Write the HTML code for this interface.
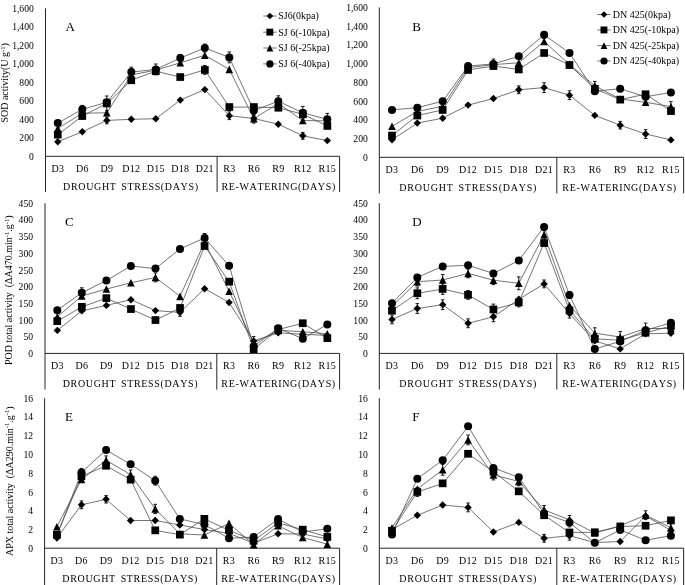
<!DOCTYPE html>
<html>
<head>
<meta charset="utf-8">
<title>Antioxidant enzyme activities under drought stress and re-watering</title>
<style>
html, body { margin: 0; padding: 0; background: #ffffff; }
body { width: 685px; height: 585px; overflow: hidden; font-family: 'Liberation Serif', serif; }
svg { display: block; font-kerning: none; will-change: transform; transform: translateZ(0); font-family: 'Liberation Serif', serif; }
</style>
</head>
<body>
<svg width="685" height="585" viewBox="0 0 685 585">
<rect x="0" y="0" width="685" height="585" fill="#ffffff"/>
<g id="panelA">
<g stroke="#262626" stroke-width="1" fill="none">
<path d="M45.5 8.4V192.0M45.5 156.3H339.6M217.1 156.3V192.0M339.6 156.3V192.0"/>
</g>
<g font-size="9.65" text-anchor="end" fill="#000">
<text x="33.8" y="159.8">0</text>
<text x="33.8" y="141.3">200</text>
<text x="33.8" y="122.8">400</text>
<text x="33.8" y="104.3">600</text>
<text x="33.8" y="85.9">800</text>
<text x="33.8" y="67.4">1,000</text>
<text x="33.8" y="48.9">1,200</text>
<text x="33.8" y="30.4">1,400</text>
<text x="33.8" y="11.9">1,600</text>
</g>
<g font-size="10" text-anchor="middle" fill="#000" letter-spacing="0.3">
<text x="57.8" y="172.3">D3</text>
<text x="82.3" y="172.3">D6</text>
<text x="106.8" y="172.3">D9</text>
<text x="131.3" y="172.3">D12</text>
<text x="155.8" y="172.3">D15</text>
<text x="180.3" y="172.3">D18</text>
<text x="204.8" y="172.3">D21</text>
<text x="229.3" y="172.3">R3</text>
<text x="253.8" y="172.3">R6</text>
<text x="278.3" y="172.3">R9</text>
<text x="302.8" y="172.3">R12</text>
<text x="327.3" y="172.3">R15</text>
</g>
<g font-size="10" text-anchor="middle" fill="#000" word-spacing="1.6">
<text x="130.9" y="189.9" letter-spacing="0.66">DROUGHT STRESS(DAYS)</text>
<text x="278.7" y="189.9" letter-spacing="0.66">RE-WATERING(DAYS)</text>
</g>
<text x="65.5" y="31.3" font-size="13" fill="#000">A</text>
<g stroke="#454545" stroke-width="0.75" fill="none" stroke-linejoin="round">
<polyline points="57.8,141.7 82.3,131.8 106.8,120.4 131.3,119.3 155.8,118.7 180.3,100.1 204.8,89.6 229.3,115.7 253.8,118.5 278.3,124.2 302.8,135.8 327.3,140.6"/>
<polyline points="57.8,134.7 82.3,116.1 106.8,103.4 131.3,80.2 155.8,71.2 180.3,77.1 204.8,69.9 229.3,107.1 253.8,107.1 278.3,107.7 302.8,114.3 327.3,125.9"/>
<polyline points="57.8,128.5 82.3,113.2 106.8,112.8 131.3,74.9 155.8,70.1 180.3,62.8 204.8,55.2 229.3,69.4 253.8,118.7 278.3,103.4 302.8,120.5 327.3,120.9"/>
<polyline points="57.8,123.1 82.3,109.3 106.8,102.3 131.3,72.1 155.8,69.4 180.3,58.0 204.8,48.0 229.3,57.4 253.8,110.6 278.3,101.2 302.8,112.8 327.3,119.3"/>
<path stroke="#000" stroke-width="0.9" d="M106.8 96.0V110.8M105.0 96.0h3.6M105.0 110.8h3.6M131.3 67.2V77.0M129.5 67.2h3.6M129.5 77.0h3.6M155.8 64.0V74.8M154.0 64.0h3.6M154.0 74.8h3.6M180.3 54.6V61.4M178.5 54.6h3.6M178.5 61.4h3.6M204.8 44.1V51.9M203.0 44.1h3.6M203.0 51.9h3.6M229.3 52.0V62.8M227.5 52.0h3.6M227.5 62.8h3.6M106.8 117.0V123.8M105.0 117.0h3.6M105.0 123.8h3.6M229.3 111.8V119.6M227.5 111.8h3.6M227.5 119.6h3.6M253.8 115.6V121.4M252.0 115.6h3.6M252.0 121.4h3.6M278.3 95.8V106.6M276.5 95.8h3.6M276.5 106.6h3.6M302.8 106.4V119.2M301.0 106.4h3.6M301.0 119.2h3.6M327.3 113.4V125.2M325.5 113.4h3.6M325.5 125.2h3.6M82.3 105.4V113.2M80.5 105.4h3.6M80.5 113.2h3.6M302.8 132.4V139.2M301.0 132.4h3.6M301.0 139.2h3.6M204.8 65.5V74.3M203.0 65.5h3.6M203.0 74.3h3.6M253.8 114.3V123.1M252.0 114.3h3.6M252.0 123.1h3.6"/>
</g>
<g fill="#000">
<path d="M57.8 138.0L61.5 141.7L57.8 145.4L54.1 141.7Z"/>
<path d="M82.3 128.1L86.0 131.8L82.3 135.5L78.6 131.8Z"/>
<path d="M106.8 116.7L110.5 120.4L106.8 124.1L103.1 120.4Z"/>
<path d="M131.3 115.6L135.0 119.3L131.3 123.0L127.6 119.3Z"/>
<path d="M155.8 115.0L159.5 118.7L155.8 122.4L152.1 118.7Z"/>
<path d="M180.3 96.4L184.0 100.1L180.3 103.8L176.6 100.1Z"/>
<path d="M204.8 85.9L208.5 89.6L204.8 93.3L201.1 89.6Z"/>
<path d="M229.3 112.0L233.0 115.7L229.3 119.4L225.6 115.7Z"/>
<path d="M253.8 114.8L257.5 118.5L253.8 122.2L250.1 118.5Z"/>
<path d="M278.3 120.5L282.0 124.2L278.3 127.9L274.6 124.2Z"/>
<path d="M302.8 132.1L306.5 135.8L302.8 139.5L299.1 135.8Z"/>
<path d="M327.3 136.9L331.0 140.6L327.3 144.3L323.6 140.6Z"/>
<rect x="53.9" y="130.8" width="7.7" height="7.7"/>
<rect x="78.4" y="112.2" width="7.7" height="7.7"/>
<rect x="102.9" y="99.6" width="7.7" height="7.7"/>
<rect x="127.4" y="76.4" width="7.7" height="7.7"/>
<rect x="151.9" y="67.4" width="7.7" height="7.7"/>
<rect x="176.4" y="73.2" width="7.7" height="7.7"/>
<rect x="201.0" y="66.1" width="7.7" height="7.7"/>
<rect x="225.5" y="103.2" width="7.7" height="7.7"/>
<rect x="250.0" y="103.2" width="7.7" height="7.7"/>
<rect x="274.5" y="103.9" width="7.7" height="7.7"/>
<rect x="299.0" y="110.5" width="7.7" height="7.7"/>
<rect x="323.5" y="122.1" width="7.7" height="7.7"/>
<path d="M57.8 124.7L61.6 132.3L54.0 132.3Z"/>
<path d="M82.3 109.4L86.1 117.0L78.5 117.0Z"/>
<path d="M106.8 109.0L110.6 116.6L103.0 116.6Z"/>
<path d="M131.3 71.1L135.1 78.7L127.5 78.7Z"/>
<path d="M155.8 66.3L159.6 73.9L152.0 73.9Z"/>
<path d="M180.3 59.0L184.1 66.6L176.5 66.6Z"/>
<path d="M204.8 51.4L208.6 59.0L201.0 59.0Z"/>
<path d="M229.3 65.6L233.1 73.2L225.5 73.2Z"/>
<path d="M253.8 114.9L257.6 122.5L250.0 122.5Z"/>
<path d="M278.3 99.6L282.1 107.2L274.5 107.2Z"/>
<path d="M302.8 116.7L306.6 124.3L299.0 124.3Z"/>
<path d="M327.3 117.1L331.1 124.7L323.5 124.7Z"/>
<circle cx="57.8" cy="123.1" r="4.00"/>
<circle cx="82.3" cy="109.3" r="4.00"/>
<circle cx="106.8" cy="102.3" r="4.00"/>
<circle cx="131.3" cy="72.1" r="4.00"/>
<circle cx="155.8" cy="69.4" r="4.00"/>
<circle cx="180.3" cy="58.0" r="4.00"/>
<circle cx="204.8" cy="48.0" r="4.00"/>
<circle cx="229.3" cy="57.4" r="4.00"/>
<circle cx="253.8" cy="110.6" r="4.00"/>
<circle cx="278.3" cy="101.2" r="4.00"/>
<circle cx="302.8" cy="112.8" r="4.00"/>
<circle cx="327.3" cy="119.3" r="4.00"/>
</g>
</g>
<g id="panelB">
<g stroke="#262626" stroke-width="1" fill="none">
<path d="M379.3 7.4V193.4M379.3 157.3H683.6M556.8 157.3V193.4M683.6 157.3V193.4"/>
</g>
<g font-size="9.65" text-anchor="end" fill="#000">
<text x="367.8" y="160.8">0</text>
<text x="367.8" y="142.1">200</text>
<text x="367.8" y="123.3">400</text>
<text x="367.8" y="104.6">600</text>
<text x="367.8" y="85.9">800</text>
<text x="367.8" y="67.1">1,000</text>
<text x="367.8" y="48.4">1,200</text>
<text x="367.8" y="29.6">1,400</text>
<text x="367.8" y="10.9">1,600</text>
</g>
<g font-size="10" text-anchor="middle" fill="#000" letter-spacing="0.3">
<text x="392.0" y="173.3">D3</text>
<text x="417.3" y="173.3">D6</text>
<text x="442.7" y="173.3">D9</text>
<text x="468.1" y="173.3">D12</text>
<text x="493.4" y="173.3">D15</text>
<text x="518.8" y="173.3">D18</text>
<text x="544.1" y="173.3">D21</text>
<text x="569.5" y="173.3">R3</text>
<text x="594.8" y="173.3">R6</text>
<text x="620.2" y="173.3">R9</text>
<text x="645.6" y="173.3">R12</text>
<text x="670.9" y="173.3">R15</text>
</g>
<g font-size="10" text-anchor="middle" fill="#000" word-spacing="1.6">
<text x="468.3" y="190.9" letter-spacing="0.77">DROUGHT STRESS(DAYS)</text>
<text x="619.6" y="190.9" letter-spacing="0.66">RE-WATERING(DAYS)</text>
</g>
<text x="412.3" y="31.2" font-size="13" fill="#000">B</text>
<g stroke="#454545" stroke-width="0.75" fill="none" stroke-linejoin="round">
<polyline points="392.0,139.8 417.3,123.1 442.7,118.2 468.1,105.1 493.4,98.5 518.8,89.8 544.1,87.6 569.5,95.2 594.8,115.4 620.2,125.2 645.6,134.0 670.9,139.9"/>
<polyline points="392.0,135.5 417.3,115.5 442.7,109.9 468.1,69.9 493.4,66.1 518.8,69.4 544.1,53.0 569.5,65.0 594.8,88.7 620.2,99.6 645.6,94.2 670.9,111.0"/>
<polyline points="392.0,126.3 417.3,111.5 442.7,106.2 468.1,67.7 493.4,64.6 518.8,62.8 544.1,41.4 569.5,64.6 594.8,85.8 620.2,99.0 645.6,102.3 670.9,106.6"/>
<polyline points="392.0,109.9 417.3,107.7 442.7,101.2 468.1,66.1 493.4,63.9 518.8,56.3 544.1,34.8 569.5,53.0 594.8,91.3 620.2,88.7 645.6,96.8 670.9,92.4"/>
<path stroke="#000" stroke-width="0.9" d="M518.8 85.9V93.7M517.0 85.9h3.6M517.0 93.7h3.6M544.1 82.7V92.5M542.3 82.7h3.6M542.3 92.5h3.6M569.5 90.8V99.6M567.7 90.8h3.6M567.7 99.6h3.6M620.2 121.4V129.0M618.4 121.4h3.6M618.4 129.0h3.6M645.6 129.6V138.4M643.8 129.6h3.6M643.8 138.4h3.6M493.4 59.0V68.8M491.6 59.0h3.6M491.6 68.8h3.6M594.8 81.4V90.2M593.0 81.4h3.6M593.0 90.2h3.6M670.9 101.7V111.5M669.1 101.7h3.6M669.1 111.5h3.6M544.1 31.4V38.2M542.3 31.4h3.6M542.3 38.2h3.6"/>
</g>
<g fill="#000">
<path d="M392.0 136.1L395.7 139.8L392.0 143.5L388.3 139.8Z"/>
<path d="M417.3 119.4L421.0 123.1L417.3 126.8L413.6 123.1Z"/>
<path d="M442.7 114.5L446.4 118.2L442.7 121.9L439.0 118.2Z"/>
<path d="M468.1 101.4L471.8 105.1L468.1 108.8L464.4 105.1Z"/>
<path d="M493.4 94.8L497.1 98.5L493.4 102.2L489.7 98.5Z"/>
<path d="M518.8 86.1L522.5 89.8L518.8 93.5L515.1 89.8Z"/>
<path d="M544.1 83.9L547.8 87.6L544.1 91.3L540.4 87.6Z"/>
<path d="M569.5 91.5L573.2 95.2L569.5 98.9L565.8 95.2Z"/>
<path d="M594.8 111.7L598.5 115.4L594.8 119.1L591.1 115.4Z"/>
<path d="M620.2 121.5L623.9 125.2L620.2 128.9L616.5 125.2Z"/>
<path d="M645.6 130.3L649.3 134.0L645.6 137.7L641.9 134.0Z"/>
<path d="M670.9 136.2L674.6 139.9L670.9 143.6L667.2 139.9Z"/>
<rect x="388.1" y="131.7" width="7.7" height="7.7"/>
<rect x="413.5" y="111.7" width="7.7" height="7.7"/>
<rect x="438.8" y="106.1" width="7.7" height="7.7"/>
<rect x="464.2" y="66.1" width="7.7" height="7.7"/>
<rect x="489.6" y="62.2" width="7.7" height="7.7"/>
<rect x="514.9" y="65.6" width="7.7" height="7.7"/>
<rect x="540.3" y="49.1" width="7.7" height="7.7"/>
<rect x="565.6" y="61.1" width="7.7" height="7.7"/>
<rect x="591.0" y="84.9" width="7.7" height="7.7"/>
<rect x="616.4" y="95.8" width="7.7" height="7.7"/>
<rect x="641.7" y="90.4" width="7.7" height="7.7"/>
<rect x="667.1" y="107.2" width="7.7" height="7.7"/>
<path d="M392.0 122.5L395.8 130.1L388.2 130.1Z"/>
<path d="M417.3 107.7L421.1 115.3L413.5 115.3Z"/>
<path d="M442.7 102.4L446.5 110.0L438.9 110.0Z"/>
<path d="M468.1 63.9L471.9 71.5L464.3 71.5Z"/>
<path d="M493.4 60.8L497.2 68.4L489.6 68.4Z"/>
<path d="M518.8 59.0L522.6 66.6L515.0 66.6Z"/>
<path d="M544.1 37.6L547.9 45.2L540.3 45.2Z"/>
<path d="M569.5 60.8L573.3 68.4L565.7 68.4Z"/>
<path d="M594.8 82.0L598.6 89.6L591.0 89.6Z"/>
<path d="M620.2 95.2L624.0 102.8L616.4 102.8Z"/>
<path d="M645.6 98.5L649.4 106.1L641.8 106.1Z"/>
<path d="M670.9 102.8L674.7 110.4L667.1 110.4Z"/>
<circle cx="392.0" cy="109.9" r="4.00"/>
<circle cx="417.3" cy="107.7" r="4.00"/>
<circle cx="442.7" cy="101.2" r="4.00"/>
<circle cx="468.1" cy="66.1" r="4.00"/>
<circle cx="493.4" cy="63.9" r="4.00"/>
<circle cx="518.8" cy="56.3" r="4.00"/>
<circle cx="544.1" cy="34.8" r="4.00"/>
<circle cx="569.5" cy="53.0" r="4.00"/>
<circle cx="594.8" cy="91.3" r="4.00"/>
<circle cx="620.2" cy="88.7" r="4.00"/>
<circle cx="645.6" cy="96.8" r="4.00"/>
<circle cx="670.9" cy="92.4" r="4.00"/>
</g>
</g>
<g id="panelC">
<g stroke="#262626" stroke-width="1" fill="none">
<path d="M45.0 203.2V389.6M45.0 353.4H339.6M216.8 353.4V389.6M339.6 353.4V389.6"/>
</g>
<g font-size="9.65" text-anchor="end" fill="#000">
<text x="33.0" y="356.9">0</text>
<text x="33.0" y="340.2">50</text>
<text x="33.0" y="323.5">100</text>
<text x="33.0" y="306.8">150</text>
<text x="33.0" y="290.1">200</text>
<text x="33.0" y="273.5">250</text>
<text x="33.0" y="256.8">300</text>
<text x="33.0" y="240.1">350</text>
<text x="33.0" y="223.4">400</text>
<text x="33.0" y="206.7">450</text>
</g>
<g font-size="10" text-anchor="middle" fill="#000" letter-spacing="0.3">
<text x="57.3" y="369.4">D3</text>
<text x="81.8" y="369.4">D6</text>
<text x="106.4" y="369.4">D9</text>
<text x="130.9" y="369.4">D12</text>
<text x="155.5" y="369.4">D15</text>
<text x="180.0" y="369.4">D18</text>
<text x="204.6" y="369.4">D21</text>
<text x="229.1" y="369.4">R3</text>
<text x="253.7" y="369.4">R6</text>
<text x="278.2" y="369.4">R9</text>
<text x="302.8" y="369.4">R12</text>
<text x="327.3" y="369.4">R15</text>
</g>
<g font-size="10" text-anchor="middle" fill="#000" word-spacing="1.6">
<text x="130.5" y="387.0" letter-spacing="0.66">DROUGHT STRESS(DAYS)</text>
<text x="278.6" y="387.0" letter-spacing="0.66">RE-WATERING(DAYS)</text>
</g>
<text x="65.0" y="226.0" font-size="13" fill="#000">C</text>
<g stroke="#454545" stroke-width="0.75" fill="none" stroke-linejoin="round">
<polyline points="57.3,330.4 81.8,310.9 106.4,305.4 130.9,299.7 155.5,310.6 180.0,312.4 204.6,288.7 229.1,302.5 253.7,340.9 278.2,332.8 302.8,334.3 327.3,335.4"/>
<polyline points="57.3,321.2 81.8,306.9 106.4,298.2 130.9,309.1 155.5,320.1 180.0,308.0 204.6,246.0 229.1,281.7 253.7,349.2 278.2,329.5 302.8,323.3 327.3,338.2"/>
<polyline points="57.3,316.8 81.8,296.0 106.4,289.0 130.9,282.8 155.5,277.4 180.0,296.4 204.6,242.3 229.1,291.2 253.7,343.0 278.2,330.4 302.8,331.7 327.3,333.9"/>
<polyline points="57.3,310.2 81.8,292.7 106.4,280.6 130.9,266.0 155.5,268.6 180.0,248.9 204.6,237.9 229.1,265.8 253.7,346.3 278.2,328.2 302.8,338.7 327.3,324.4"/>
<path stroke="#000" stroke-width="0.9" d="M81.8 287.8V297.6M80.0 287.8h3.6M80.0 297.6h3.6M204.6 233.5V242.3M202.8 233.5h3.6M202.8 242.3h3.6M253.7 336.6V349.4M251.9 336.6h3.6M251.9 349.4h3.6M180.0 308.5V316.3M178.2 308.5h3.6M178.2 316.3h3.6M155.5 273.0V281.8M153.7 273.0h3.6M153.7 281.8h3.6"/>
</g>
<g fill="#000">
<path d="M57.3 326.7L61.0 330.4L57.3 334.1L53.6 330.4Z"/>
<path d="M81.8 307.2L85.5 310.9L81.8 314.6L78.1 310.9Z"/>
<path d="M106.4 301.7L110.1 305.4L106.4 309.1L102.7 305.4Z"/>
<path d="M130.9 296.0L134.6 299.7L130.9 303.4L127.2 299.7Z"/>
<path d="M155.5 306.9L159.2 310.6L155.5 314.3L151.8 310.6Z"/>
<path d="M180.0 308.7L183.7 312.4L180.0 316.1L176.3 312.4Z"/>
<path d="M204.6 285.0L208.3 288.7L204.6 292.4L200.9 288.7Z"/>
<path d="M229.1 298.8L232.8 302.5L229.1 306.2L225.4 302.5Z"/>
<path d="M253.7 337.2L257.4 340.9L253.7 344.6L250.0 340.9Z"/>
<path d="M278.2 329.1L281.9 332.8L278.2 336.5L274.5 332.8Z"/>
<path d="M302.8 330.6L306.5 334.3L302.8 338.0L299.1 334.3Z"/>
<path d="M327.3 331.7L331.0 335.4L327.3 339.1L323.6 335.4Z"/>
<rect x="53.4" y="317.3" width="7.7" height="7.7"/>
<rect x="78.0" y="303.0" width="7.7" height="7.7"/>
<rect x="102.5" y="294.3" width="7.7" height="7.7"/>
<rect x="127.1" y="305.2" width="7.7" height="7.7"/>
<rect x="151.6" y="316.2" width="7.7" height="7.7"/>
<rect x="176.2" y="304.1" width="7.7" height="7.7"/>
<rect x="200.7" y="242.2" width="7.7" height="7.7"/>
<rect x="225.3" y="277.8" width="7.7" height="7.7"/>
<rect x="249.8" y="345.3" width="7.7" height="7.7"/>
<rect x="274.4" y="325.6" width="7.7" height="7.7"/>
<rect x="298.9" y="319.4" width="7.7" height="7.7"/>
<rect x="323.5" y="334.3" width="7.7" height="7.7"/>
<path d="M57.3 313.0L61.1 320.6L53.5 320.6Z"/>
<path d="M81.8 292.2L85.6 299.8L78.0 299.8Z"/>
<path d="M106.4 285.2L110.2 292.8L102.6 292.8Z"/>
<path d="M130.9 279.0L134.7 286.6L127.1 286.6Z"/>
<path d="M155.5 273.6L159.3 281.2L151.7 281.2Z"/>
<path d="M180.0 292.6L183.8 300.2L176.2 300.2Z"/>
<path d="M204.6 238.5L208.4 246.1L200.8 246.1Z"/>
<path d="M229.1 287.4L232.9 295.0L225.3 295.0Z"/>
<path d="M253.7 339.2L257.5 346.8L249.9 346.8Z"/>
<path d="M278.2 326.6L282.0 334.2L274.4 334.2Z"/>
<path d="M302.8 327.9L306.6 335.5L299.0 335.5Z"/>
<path d="M327.3 330.1L331.1 337.7L323.5 337.7Z"/>
<circle cx="57.3" cy="310.2" r="4.00"/>
<circle cx="81.8" cy="292.7" r="4.00"/>
<circle cx="106.4" cy="280.6" r="4.00"/>
<circle cx="130.9" cy="266.0" r="4.00"/>
<circle cx="155.5" cy="268.6" r="4.00"/>
<circle cx="180.0" cy="248.9" r="4.00"/>
<circle cx="204.6" cy="237.9" r="4.00"/>
<circle cx="229.1" cy="265.8" r="4.00"/>
<circle cx="253.7" cy="346.3" r="4.00"/>
<circle cx="278.2" cy="328.2" r="4.00"/>
<circle cx="302.8" cy="338.7" r="4.00"/>
<circle cx="327.3" cy="324.4" r="4.00"/>
</g>
</g>
<g id="panelD">
<g stroke="#262626" stroke-width="1" fill="none">
<path d="M379.3 203.2V389.6M379.3 353.4H683.6M556.8 353.4V389.6M683.6 353.4V389.6"/>
</g>
<g font-size="9.65" text-anchor="end" fill="#000">
<text x="367.8" y="356.9">0</text>
<text x="367.8" y="340.2">50</text>
<text x="367.8" y="323.5">100</text>
<text x="367.8" y="306.8">150</text>
<text x="367.8" y="290.1">200</text>
<text x="367.8" y="273.5">250</text>
<text x="367.8" y="256.8">300</text>
<text x="367.8" y="240.1">350</text>
<text x="367.8" y="223.4">400</text>
<text x="367.8" y="206.7">450</text>
</g>
<g font-size="10" text-anchor="middle" fill="#000" letter-spacing="0.3">
<text x="392.0" y="369.4">D3</text>
<text x="417.3" y="369.4">D6</text>
<text x="442.7" y="369.4">D9</text>
<text x="468.1" y="369.4">D12</text>
<text x="493.4" y="369.4">D15</text>
<text x="518.8" y="369.4">D18</text>
<text x="544.1" y="369.4">D21</text>
<text x="569.5" y="369.4">R3</text>
<text x="594.8" y="369.4">R6</text>
<text x="620.2" y="369.4">R9</text>
<text x="645.6" y="369.4">R12</text>
<text x="670.9" y="369.4">R15</text>
</g>
<g font-size="10" text-anchor="middle" fill="#000" word-spacing="1.6">
<text x="468.3" y="387.0" letter-spacing="0.77">DROUGHT STRESS(DAYS)</text>
<text x="619.6" y="387.0" letter-spacing="0.66">RE-WATERING(DAYS)</text>
</g>
<text x="412.3" y="226.0" font-size="13" fill="#000">D</text>
<g stroke="#454545" stroke-width="0.75" fill="none" stroke-linejoin="round">
<polyline points="392.0,319.4 417.3,308.5 442.7,304.7 468.1,323.3 493.4,316.8 518.8,299.3 544.1,283.9 569.5,313.6 594.8,340.9 620.2,348.9 645.6,333.8 670.9,333.2"/>
<polyline points="392.0,310.6 417.3,293.3 442.7,289.0 468.1,294.9 493.4,309.5 518.8,302.5 544.1,243.0 569.5,310.4 594.8,338.9 620.2,340.2 645.6,332.8 670.9,326.0"/>
<polyline points="392.0,306.3 417.3,281.7 442.7,280.0 468.1,273.4 493.4,280.2 518.8,283.3 544.1,234.8 569.5,305.5 594.8,333.2 620.2,337.0 645.6,328.5 670.9,328.5"/>
<polyline points="392.0,303.2 417.3,277.4 442.7,266.4 468.1,265.3 493.4,273.4 518.8,260.5 544.1,226.9 569.5,295.0 594.8,348.9 620.2,341.4 645.6,330.3 670.9,322.8"/>
<path stroke="#000" stroke-width="0.9" d="M392.0 315.0V323.8M390.2 315.0h3.6M390.2 323.8h3.6M417.3 303.6V313.4M415.5 303.6h3.6M415.5 313.4h3.6M442.7 299.8V309.6M440.9 299.8h3.6M440.9 309.6h3.6M468.1 318.9V327.7M466.3 318.9h3.6M466.3 327.7h3.6M493.4 311.9V321.7M491.6 311.9h3.6M491.6 321.7h3.6M544.1 280.0V287.8M542.3 280.0h3.6M542.3 287.8h3.6M569.5 309.2V318.0M567.7 309.2h3.6M567.7 318.0h3.6M417.3 277.3V286.1M415.5 277.3h3.6M415.5 286.1h3.6M442.7 274.6V285.4M440.9 274.6h3.6M440.9 285.4h3.6M468.1 269.0V277.8M466.3 269.0h3.6M466.3 277.8h3.6M493.4 275.8V284.6M491.6 275.8h3.6M491.6 284.6h3.6M518.8 276.9V289.7M517.0 276.9h3.6M517.0 289.7h3.6M417.3 287.9V298.7M415.5 287.9h3.6M415.5 298.7h3.6M442.7 283.6V294.4M440.9 283.6h3.6M440.9 294.4h3.6M493.4 304.1V314.9M491.6 304.1h3.6M491.6 314.9h3.6M518.8 298.1V306.9M517.0 298.1h3.6M517.0 306.9h3.6M594.8 327.8V338.6M593.0 327.8h3.6M593.0 338.6h3.6M620.2 331.6V342.4M618.4 331.6h3.6M618.4 342.4h3.6M645.6 323.1V333.9M643.8 323.1h3.6M643.8 333.9h3.6M468.1 290.5V299.3M466.3 290.5h3.6M466.3 299.3h3.6M569.5 291.6V298.4M567.7 291.6h3.6M567.7 298.4h3.6M544.1 230.4V239.2M542.3 230.4h3.6M542.3 239.2h3.6"/>
</g>
<g fill="#000">
<path d="M392.0 315.7L395.7 319.4L392.0 323.1L388.3 319.4Z"/>
<path d="M417.3 304.8L421.0 308.5L417.3 312.2L413.6 308.5Z"/>
<path d="M442.7 301.0L446.4 304.7L442.7 308.4L439.0 304.7Z"/>
<path d="M468.1 319.6L471.8 323.3L468.1 327.0L464.4 323.3Z"/>
<path d="M493.4 313.1L497.1 316.8L493.4 320.5L489.7 316.8Z"/>
<path d="M518.8 295.6L522.5 299.3L518.8 303.0L515.1 299.3Z"/>
<path d="M544.1 280.2L547.8 283.9L544.1 287.6L540.4 283.9Z"/>
<path d="M569.5 309.9L573.2 313.6L569.5 317.3L565.8 313.6Z"/>
<path d="M594.8 337.2L598.5 340.9L594.8 344.6L591.1 340.9Z"/>
<path d="M620.2 345.2L623.9 348.9L620.2 352.6L616.5 348.9Z"/>
<path d="M645.6 330.1L649.3 333.8L645.6 337.5L641.9 333.8Z"/>
<path d="M670.9 329.5L674.6 333.2L670.9 336.9L667.2 333.2Z"/>
<rect x="388.1" y="306.8" width="7.7" height="7.7"/>
<rect x="413.5" y="289.4" width="7.7" height="7.7"/>
<rect x="438.8" y="285.1" width="7.7" height="7.7"/>
<rect x="464.2" y="291.0" width="7.7" height="7.7"/>
<rect x="489.6" y="305.6" width="7.7" height="7.7"/>
<rect x="514.9" y="298.6" width="7.7" height="7.7"/>
<rect x="540.3" y="239.2" width="7.7" height="7.7"/>
<rect x="565.6" y="306.5" width="7.7" height="7.7"/>
<rect x="591.0" y="335.0" width="7.7" height="7.7"/>
<rect x="616.4" y="336.3" width="7.7" height="7.7"/>
<rect x="641.7" y="328.9" width="7.7" height="7.7"/>
<rect x="667.1" y="322.1" width="7.7" height="7.7"/>
<path d="M392.0 302.5L395.8 310.1L388.2 310.1Z"/>
<path d="M417.3 277.9L421.1 285.5L413.5 285.5Z"/>
<path d="M442.7 276.2L446.5 283.8L438.9 283.8Z"/>
<path d="M468.1 269.6L471.9 277.2L464.3 277.2Z"/>
<path d="M493.4 276.4L497.2 284.0L489.6 284.0Z"/>
<path d="M518.8 279.5L522.6 287.1L515.0 287.1Z"/>
<path d="M544.1 231.0L547.9 238.6L540.3 238.6Z"/>
<path d="M569.5 301.7L573.3 309.3L565.7 309.3Z"/>
<path d="M594.8 329.4L598.6 337.0L591.0 337.0Z"/>
<path d="M620.2 333.2L624.0 340.8L616.4 340.8Z"/>
<path d="M645.6 324.7L649.4 332.3L641.8 332.3Z"/>
<path d="M670.9 324.7L674.7 332.3L667.1 332.3Z"/>
<circle cx="392.0" cy="303.2" r="4.00"/>
<circle cx="417.3" cy="277.4" r="4.00"/>
<circle cx="442.7" cy="266.4" r="4.00"/>
<circle cx="468.1" cy="265.3" r="4.00"/>
<circle cx="493.4" cy="273.4" r="4.00"/>
<circle cx="518.8" cy="260.5" r="4.00"/>
<circle cx="544.1" cy="226.9" r="4.00"/>
<circle cx="569.5" cy="295.0" r="4.00"/>
<circle cx="594.8" cy="348.9" r="4.00"/>
<circle cx="620.2" cy="341.4" r="4.00"/>
<circle cx="645.6" cy="330.3" r="4.00"/>
<circle cx="670.9" cy="322.8" r="4.00"/>
</g>
</g>
<g id="panelE">
<g stroke="#262626" stroke-width="1" fill="none">
<path d="M44.6 398.2V585.0M44.6 548.2H339.6M216.7 548.2V585.0M339.6 548.2V585.0"/>
</g>
<g font-size="9.65" text-anchor="end" fill="#000">
<text x="33.0" y="551.7">0</text>
<text x="33.0" y="533.0">2</text>
<text x="33.0" y="514.2">4</text>
<text x="33.0" y="495.5">6</text>
<text x="33.0" y="476.7">8</text>
<text x="33.0" y="458.0">10</text>
<text x="33.0" y="439.2">12</text>
<text x="33.0" y="420.4">14</text>
<text x="33.0" y="401.7">16</text>
</g>
<g font-size="10" text-anchor="middle" fill="#000" letter-spacing="0.3">
<text x="56.9" y="564.2">D3</text>
<text x="81.5" y="564.2">D6</text>
<text x="106.1" y="564.2">D9</text>
<text x="130.6" y="564.2">D12</text>
<text x="155.2" y="564.2">D15</text>
<text x="179.8" y="564.2">D18</text>
<text x="204.4" y="564.2">D21</text>
<text x="229.0" y="564.2">R3</text>
<text x="253.6" y="564.2">R6</text>
<text x="278.1" y="564.2">R9</text>
<text x="302.7" y="564.2">R12</text>
<text x="327.3" y="564.2">R15</text>
</g>
<g font-size="10" text-anchor="middle" fill="#000" word-spacing="1.6">
<text x="130.2" y="581.8" letter-spacing="0.66">DROUGHT STRESS(DAYS)</text>
<text x="278.5" y="581.8" letter-spacing="0.66">RE-WATERING(DAYS)</text>
</g>
<text x="65.0" y="421.0" font-size="13" fill="#000">E</text>
<g stroke="#454545" stroke-width="0.75" fill="none" stroke-linejoin="round">
<polyline points="56.9,538.0 81.5,504.8 106.1,499.3 130.6,520.5 155.2,520.5 179.8,525.0 204.4,529.6 229.0,533.3 253.6,543.2 278.1,533.8 302.7,534.0 327.3,539.0"/>
<polyline points="56.9,534.8 81.5,476.3 106.1,465.8 130.6,479.6 155.2,530.4 179.8,534.6 204.4,518.9 229.0,530.3 253.6,540.7 278.1,522.9 302.7,529.6 327.3,537.0"/>
<polyline points="56.9,526.7 81.5,479.4 106.1,460.3 130.6,474.6 155.2,508.9 179.8,533.8 204.4,535.0 229.0,523.4 253.6,544.6 278.1,525.8 302.7,537.5 327.3,544.2"/>
<polyline points="56.9,535.4 81.5,472.4 106.1,450.0 130.6,464.3 155.2,480.7 179.8,518.9 204.4,524.6 229.0,538.3 253.6,537.0 278.1,519.1 302.7,532.0 327.3,528.8"/>
<path stroke="#000" stroke-width="0.9" d="M81.5 500.9V508.7M79.7 500.9h3.6M79.7 508.7h3.6M106.1 495.6V503.0M104.3 495.6h3.6M104.3 503.0h3.6M155.2 476.3V485.1M153.4 476.3h3.6M153.4 485.1h3.6M130.6 470.0V479.2M128.8 470.0h3.6M128.8 479.2h3.6M155.2 504.3V513.5M153.4 504.3h3.6M153.4 513.5h3.6M106.1 455.9V464.7M104.3 455.9h3.6M104.3 464.7h3.6M81.5 468.4V476.4M79.7 468.4h3.6M79.7 476.4h3.6"/>
</g>
<g fill="#000">
<path d="M56.9 534.3L60.6 538.0L56.9 541.7L53.2 538.0Z"/>
<path d="M81.5 501.1L85.2 504.8L81.5 508.5L77.8 504.8Z"/>
<path d="M106.1 495.6L109.8 499.3L106.1 503.0L102.4 499.3Z"/>
<path d="M130.6 516.8L134.3 520.5L130.6 524.2L126.9 520.5Z"/>
<path d="M155.2 516.8L158.9 520.5L155.2 524.2L151.5 520.5Z"/>
<path d="M179.8 521.3L183.5 525.0L179.8 528.7L176.1 525.0Z"/>
<path d="M204.4 525.9L208.1 529.6L204.4 533.3L200.7 529.6Z"/>
<path d="M229.0 529.6L232.7 533.3L229.0 537.0L225.3 533.3Z"/>
<path d="M253.6 539.5L257.3 543.2L253.6 546.9L249.9 543.2Z"/>
<path d="M278.1 530.1L281.8 533.8L278.1 537.5L274.4 533.8Z"/>
<path d="M302.7 530.3L306.4 534.0L302.7 537.7L299.0 534.0Z"/>
<path d="M327.3 535.3L331.0 539.0L327.3 542.7L323.6 539.0Z"/>
<rect x="53.0" y="530.9" width="7.7" height="7.7"/>
<rect x="77.6" y="472.4" width="7.7" height="7.7"/>
<rect x="102.2" y="461.9" width="7.7" height="7.7"/>
<rect x="126.8" y="475.8" width="7.7" height="7.7"/>
<rect x="151.4" y="526.5" width="7.7" height="7.7"/>
<rect x="176.0" y="530.8" width="7.7" height="7.7"/>
<rect x="200.5" y="515.0" width="7.7" height="7.7"/>
<rect x="225.1" y="526.4" width="7.7" height="7.7"/>
<rect x="249.7" y="536.9" width="7.7" height="7.7"/>
<rect x="274.3" y="519.0" width="7.7" height="7.7"/>
<rect x="298.9" y="525.8" width="7.7" height="7.7"/>
<rect x="323.5" y="533.1" width="7.7" height="7.7"/>
<path d="M56.9 522.9L60.7 530.5L53.1 530.5Z"/>
<path d="M81.5 475.6L85.3 483.2L77.7 483.2Z"/>
<path d="M106.1 456.5L109.9 464.1L102.3 464.1Z"/>
<path d="M130.6 470.8L134.4 478.4L126.8 478.4Z"/>
<path d="M155.2 505.1L159.0 512.7L151.4 512.7Z"/>
<path d="M179.8 530.0L183.6 537.6L176.0 537.6Z"/>
<path d="M204.4 531.2L208.2 538.8L200.6 538.8Z"/>
<path d="M229.0 519.6L232.8 527.2L225.2 527.2Z"/>
<path d="M253.6 540.8L257.4 548.4L249.8 548.4Z"/>
<path d="M278.1 522.0L281.9 529.6L274.3 529.6Z"/>
<path d="M302.7 533.7L306.5 541.3L298.9 541.3Z"/>
<path d="M327.3 540.4L331.1 548.0L323.5 548.0Z"/>
<circle cx="56.9" cy="535.4" r="4.00"/>
<circle cx="81.5" cy="472.4" r="4.00"/>
<circle cx="106.1" cy="450.0" r="4.00"/>
<circle cx="130.6" cy="464.3" r="4.00"/>
<circle cx="155.2" cy="480.7" r="4.00"/>
<circle cx="179.8" cy="518.9" r="4.00"/>
<circle cx="204.4" cy="524.6" r="4.00"/>
<circle cx="229.0" cy="538.3" r="4.00"/>
<circle cx="253.6" cy="537.0" r="4.00"/>
<circle cx="278.1" cy="519.1" r="4.00"/>
<circle cx="302.7" cy="532.0" r="4.00"/>
<circle cx="327.3" cy="528.8" r="4.00"/>
</g>
</g>
<g id="panelF">
<g stroke="#262626" stroke-width="1" fill="none">
<path d="M379.3 398.2V585.0M379.3 548.2H683.6M556.8 548.2V585.0M683.6 548.2V585.0"/>
</g>
<g font-size="9.65" text-anchor="end" fill="#000">
<text x="367.8" y="551.7">0</text>
<text x="367.8" y="533.0">2</text>
<text x="367.8" y="514.2">4</text>
<text x="367.8" y="495.5">6</text>
<text x="367.8" y="476.7">8</text>
<text x="367.8" y="458.0">10</text>
<text x="367.8" y="439.2">12</text>
<text x="367.8" y="420.4">14</text>
<text x="367.8" y="401.7">16</text>
</g>
<g font-size="10" text-anchor="middle" fill="#000" letter-spacing="0.3">
<text x="392.0" y="564.2">D3</text>
<text x="417.3" y="564.2">D6</text>
<text x="442.7" y="564.2">D9</text>
<text x="468.1" y="564.2">D12</text>
<text x="493.4" y="564.2">D15</text>
<text x="518.8" y="564.2">D18</text>
<text x="544.1" y="564.2">D21</text>
<text x="569.5" y="564.2">R3</text>
<text x="594.8" y="564.2">R6</text>
<text x="620.2" y="564.2">R9</text>
<text x="645.6" y="564.2">R12</text>
<text x="670.9" y="564.2">R15</text>
</g>
<g font-size="10" text-anchor="middle" fill="#000" word-spacing="1.6">
<text x="468.3" y="581.8" letter-spacing="0.77">DROUGHT STRESS(DAYS)</text>
<text x="619.6" y="581.8" letter-spacing="0.66">RE-WATERING(DAYS)</text>
</g>
<text x="412.3" y="421.0" font-size="13" fill="#000">F</text>
<g stroke="#454545" stroke-width="0.75" fill="none" stroke-linejoin="round">
<polyline points="392.0,529.6 417.3,515.3 442.7,505.0 468.1,507.4 493.4,532.0 518.8,522.4 544.1,538.3 569.5,535.7 594.8,542.6 620.2,541.5 645.6,516.0 670.9,530.4"/>
<polyline points="392.0,530.8 417.3,492.0 442.7,483.4 468.1,453.8 493.4,471.7 518.8,491.4 544.1,515.2 569.5,532.5 594.8,532.3 620.2,526.5 645.6,525.7 670.9,520.4"/>
<polyline points="392.0,527.7 417.3,489.0 442.7,469.8 468.1,439.9 493.4,475.0 518.8,481.4 544.1,509.9 569.5,519.9 594.8,533.0 620.2,525.7 645.6,515.2 670.9,527.8"/>
<polyline points="392.0,534.4 417.3,478.7 442.7,460.2 468.1,426.3 493.4,467.9 518.8,477.3 544.1,513.4 569.5,522.5 594.8,542.8 620.2,529.9 645.6,540.2 670.9,535.7"/>
<path stroke="#000" stroke-width="0.9" d="M468.1 503.0V511.8M466.3 503.0h3.6M466.3 511.8h3.6M544.1 534.4V542.2M542.3 534.4h3.6M542.3 542.2h3.6M569.5 531.3V540.1M567.7 531.3h3.6M567.7 540.1h3.6M442.7 464.4V475.2M440.9 464.4h3.6M440.9 475.2h3.6M468.1 435.0V444.8M466.3 435.0h3.6M466.3 444.8h3.6M493.4 470.1V479.9M491.6 470.1h3.6M491.6 479.9h3.6M518.8 477.0V485.8M517.0 477.0h3.6M517.0 485.8h3.6M544.1 505.5V514.3M542.3 505.5h3.6M542.3 514.3h3.6M645.6 510.8V519.6M643.8 510.8h3.6M643.8 519.6h3.6M417.3 487.6V496.4M415.5 487.6h3.6M415.5 496.4h3.6M569.5 515.5V524.3M567.7 515.5h3.6M567.7 524.3h3.6M670.9 523.9V531.7M669.1 523.9h3.6M669.1 531.7h3.6M569.5 518.1V526.9M567.7 518.1h3.6M567.7 526.9h3.6"/>
</g>
<g fill="#000">
<path d="M392.0 525.9L395.7 529.6L392.0 533.3L388.3 529.6Z"/>
<path d="M417.3 511.6L421.0 515.3L417.3 519.0L413.6 515.3Z"/>
<path d="M442.7 501.3L446.4 505.0L442.7 508.7L439.0 505.0Z"/>
<path d="M468.1 503.7L471.8 507.4L468.1 511.1L464.4 507.4Z"/>
<path d="M493.4 528.3L497.1 532.0L493.4 535.7L489.7 532.0Z"/>
<path d="M518.8 518.7L522.5 522.4L518.8 526.1L515.1 522.4Z"/>
<path d="M544.1 534.6L547.8 538.3L544.1 542.0L540.4 538.3Z"/>
<path d="M569.5 532.0L573.2 535.7L569.5 539.4L565.8 535.7Z"/>
<path d="M594.8 538.9L598.5 542.6L594.8 546.3L591.1 542.6Z"/>
<path d="M620.2 537.8L623.9 541.5L620.2 545.2L616.5 541.5Z"/>
<path d="M645.6 512.3L649.3 516.0L645.6 519.7L641.9 516.0Z"/>
<path d="M670.9 526.7L674.6 530.4L670.9 534.1L667.2 530.4Z"/>
<rect x="388.1" y="526.9" width="7.7" height="7.7"/>
<rect x="413.5" y="488.1" width="7.7" height="7.7"/>
<rect x="438.8" y="479.5" width="7.7" height="7.7"/>
<rect x="464.2" y="449.9" width="7.7" height="7.7"/>
<rect x="489.6" y="467.8" width="7.7" height="7.7"/>
<rect x="514.9" y="487.5" width="7.7" height="7.7"/>
<rect x="540.3" y="511.4" width="7.7" height="7.7"/>
<rect x="565.6" y="528.6" width="7.7" height="7.7"/>
<rect x="591.0" y="528.4" width="7.7" height="7.7"/>
<rect x="616.4" y="522.6" width="7.7" height="7.7"/>
<rect x="641.7" y="521.9" width="7.7" height="7.7"/>
<rect x="667.1" y="516.5" width="7.7" height="7.7"/>
<path d="M392.0 523.9L395.8 531.5L388.2 531.5Z"/>
<path d="M417.3 485.2L421.1 492.8L413.5 492.8Z"/>
<path d="M442.7 466.0L446.5 473.6L438.9 473.6Z"/>
<path d="M468.1 436.1L471.9 443.7L464.3 443.7Z"/>
<path d="M493.4 471.2L497.2 478.8L489.6 478.8Z"/>
<path d="M518.8 477.6L522.6 485.2L515.0 485.2Z"/>
<path d="M544.1 506.1L547.9 513.7L540.3 513.7Z"/>
<path d="M569.5 516.1L573.3 523.7L565.7 523.7Z"/>
<path d="M594.8 529.2L598.6 536.8L591.0 536.8Z"/>
<path d="M620.2 521.9L624.0 529.5L616.4 529.5Z"/>
<path d="M645.6 511.4L649.4 519.0L641.8 519.0Z"/>
<path d="M670.9 524.0L674.7 531.6L667.1 531.6Z"/>
<circle cx="392.0" cy="534.4" r="4.00"/>
<circle cx="417.3" cy="478.7" r="4.00"/>
<circle cx="442.7" cy="460.2" r="4.00"/>
<circle cx="468.1" cy="426.3" r="4.00"/>
<circle cx="493.4" cy="467.9" r="4.00"/>
<circle cx="518.8" cy="477.3" r="4.00"/>
<circle cx="544.1" cy="513.4" r="4.00"/>
<circle cx="569.5" cy="522.5" r="4.00"/>
<circle cx="594.8" cy="542.8" r="4.00"/>
<circle cx="620.2" cy="529.9" r="4.00"/>
<circle cx="645.6" cy="540.2" r="4.00"/>
<circle cx="670.9" cy="535.7" r="4.00"/>
</g>
</g>
<g id="legendA">
<g stroke="#454545" stroke-width="0.75">
<path d="M263.2 16.0H276.6"/>
<path d="M263.2 32.2H276.6"/>
<path d="M263.2 48.0H276.6"/>
<path d="M263.2 63.9H276.6"/>
</g>
<g fill="#000">
<path d="M269.9 12.7L273.2 16.0L269.9 19.3L266.6 16.0Z"/>
<rect x="266.4" y="28.7" width="6.9" height="6.9"/>
<path d="M269.9 44.6L273.3 51.4L266.5 51.4Z"/>
<circle cx="269.9" cy="63.9" r="3.60"/>
</g>
<g font-size="10" fill="#000">
<text x="278.2" y="19.4">SJ6(0kpa)</text>
<text x="278.2" y="35.6">SJ 6(-10kpa)</text>
<text x="278.2" y="51.4">SJ 6(-25kpa)</text>
<text x="278.2" y="67.3">SJ 6(-40kpa)</text>
</g>
</g>
<g id="legendB">
<g stroke="#454545" stroke-width="0.75">
<path d="M597.3 14.5H610.7"/>
<path d="M597.3 30.0H610.7"/>
<path d="M597.3 45.6H610.7"/>
<path d="M597.3 61.0H610.7"/>
</g>
<g fill="#000">
<path d="M604.0 11.2L607.3 14.5L604.0 17.8L600.7 14.5Z"/>
<rect x="600.5" y="26.5" width="6.9" height="6.9"/>
<path d="M604.0 42.2L607.4 49.0L600.6 49.0Z"/>
<circle cx="604.0" cy="61.0" r="3.60"/>
</g>
<g font-size="10" fill="#000">
<text x="612.7" y="17.9">DN 425(0kpa)</text>
<text x="612.7" y="33.4">DN 425(-10kpa)</text>
<text x="612.7" y="49.0">DN 425(-25kpa)</text>
<text x="612.7" y="64.4">DN 425(-40kpa)</text>
</g>
</g>
<text transform="translate(8.1 122.6) rotate(-90)" font-size="10" fill="#000" text-anchor="start">SOD activity(U g<tspan font-size="6.7" dy="-3.5">-1</tspan><tspan dy="3.5">)</tspan></text>
<text transform="translate(12.1 365.0) rotate(-90)" font-size="10" fill="#000" text-anchor="start">POD total activity <tspan dx="2.4">(ΔA470.min</tspan><tspan font-size="6.7" dy="-3.5">-1</tspan><tspan dy="3.5">.g</tspan><tspan font-size="6.7" dy="-3.5">-1</tspan><tspan dy="3.5">)</tspan></text>
<text transform="translate(12.6 556.0) rotate(-90)" font-size="10" fill="#000" text-anchor="start">APX total activity <tspan dx="2.4">(ΔA290.min</tspan><tspan font-size="6.7" dy="-3.5">-1</tspan><tspan dy="3.5">.g</tspan><tspan font-size="6.7" dy="-3.5">-1</tspan><tspan dy="3.5">)</tspan></text>
</svg>
</body>
</html>
